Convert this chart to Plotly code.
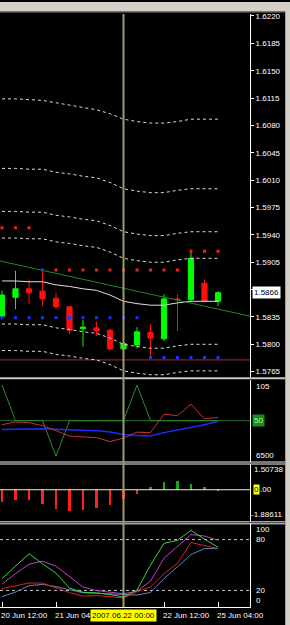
import plotly.graph_objects as go

W, H = 290, 625

# ---------------- data ----------------
bar_times = ["2007.06.20 12:00", "2007.06.20 16:00", "2007.06.20 20:00", "2007.06.21 00:00",
             "2007.06.21 04:00", "2007.06.21 08:00", "2007.06.21 12:00", "2007.06.21 16:00",
             "2007.06.21 20:00", "2007.06.22 00:00", "2007.06.22 04:00", "2007.06.22 08:00",
             "2007.06.22 12:00", "2007.06.22 16:00", "2007.06.22 20:00", "2007.06.25 00:00",
             "2007.06.25 04:00"]
bar_idx = list(range(len(bar_times)))

open_ = [1.5836, 1.5860, 1.5871, 1.5868, 1.5859, 1.5848, 1.5820, 1.5821, 1.5818, 1.5794,
         1.5799, 1.5815, 1.5807, 1.5858, 1.5857, 1.5878, 1.5855]
high_ = [1.5869, 1.5894, 1.5883, 1.5896, 1.5866, 1.5849, 1.5831, 1.5829, 1.5820, 1.5802,
         1.5822, 1.5826, 1.5864, 1.5864, 1.5917, 1.5883, 1.5868]
low_ = [1.5834, 1.5845, 1.5852, 1.5849, 1.5845, 1.5813, 1.5797, 1.5811, 1.5792, 1.5793,
        1.5795, 1.5783, 1.5804, 1.5817, 1.5855, 1.5854, 1.5849]
close_ = [1.5863, 1.5871, 1.5866, 1.5858, 1.5848, 1.5818, 1.5822, 1.5817, 1.5794, 1.5801,
          1.5816, 1.5808, 1.5858, 1.5857, 1.5910, 1.5855, 1.5866]

env_mid = [1.5881, 1.5881, 1.5880, 1.5880, 1.5876, 1.5874, 1.5871, 1.5869, 1.5863, 1.5855,
           1.5852, 1.5850, 1.5850, 1.5853, 1.5855, 1.5855, 1.5855]
env_up1 = [1.5936, 1.5936, 1.5935, 1.5935, 1.5931, 1.5929, 1.5926, 1.5924, 1.5918, 1.5910,
           1.5907, 1.5905, 1.5905, 1.5908, 1.5910, 1.5910, 1.5910]
env_up2 = [1.5970, 1.5970, 1.5969, 1.5969, 1.5965, 1.5963, 1.5960, 1.5958, 1.5952, 1.5944,
           1.5941, 1.5939, 1.5939, 1.5942, 1.5944, 1.5944, 1.5944]
env_up3 = [1.6025, 1.6025, 1.6024, 1.6024, 1.6020, 1.6018, 1.6015, 1.6013, 1.6007, 1.5999,
           1.5996, 1.5994, 1.5994, 1.5997, 1.5999, 1.5999, 1.5999]
env_up4 = [1.6114, 1.6114, 1.6113, 1.6112, 1.6109, 1.6106, 1.6103, 1.6100, 1.6095, 1.6088,
           1.6085, 1.6083, 1.6083, 1.6085, 1.6088, 1.6088, 1.6088]
env_dn1 = [1.5826, 1.5826, 1.5825, 1.5825, 1.5821, 1.5819, 1.5816, 1.5814, 1.5808, 1.5800,
           1.5797, 1.5795, 1.5795, 1.5798, 1.5800, 1.5800, 1.5800]
env_dn2 = [1.5792, 1.5792, 1.5791, 1.5791, 1.5787, 1.5785, 1.5782, 1.5780, 1.5774, 1.5766,
           1.5763, 1.5761, 1.5761, 1.5764, 1.5766, 1.5766, 1.5766]

res_dot_idx = [0, 1, 2, 4, 5, 6, 7, 8, 9, 10, 11, 12, 13, 14, 15, 16]
res_dot_val = [1.5949, 1.5949, 1.5949, 1.5895, 1.5895, 1.5895, 1.5895, 1.5895, 1.5895, 1.5895,
               1.5895, 1.5895, 1.5895, 1.5919, 1.5919, 1.5919]
sup_dot_idx = [0, 1, 2, 3, 3, 4, 5, 6, 7, 8, 9, 10, 11, 12, 13, 14, 15, 16]
sup_dot_val = [1.5834, 1.5834, 1.5834, 1.5834, 1.5895, 1.5834, 1.5834, 1.5834, 1.5834, 1.5834,
               1.5834, 1.5834, 1.5783, 1.5783, 1.5783, 1.5783, 1.5783, 1.5783]

trend_idx = [0, 16]
trend_val = [1.5906, 1.5845]
hline_price = 1.5780
last_price = 1.5866

price_ticks = [1.6220, 1.6185, 1.6150, 1.6115, 1.6080, 1.6045, 1.6010, 1.5975, 1.5940,
               1.5905, 1.5870, 1.5835, 1.5800, 1.5765]
hidden_tick = 1.5870   # covered by the last-price box

# sub window 1
sub1_zig = [105, 50, 50, 50, -5, 50, 50, 50, 50, 50, 105, 50, 50, 50, 50, 50, 50]
sub1_red = [43.8, 48.0, 46.9, 42.3, 34.6, 26.2, 24.9, 23.8, 17.7, 23.1, 32.3, 31.5, 60.0,
            57.7, 75.4, 52.6, 55.3]
sub1_blue = [36.2, 36.9, 37.4, 37.4, 36.9, 36.2, 35.4, 34.6, 32.3, 28.7, 26.9, 26.2, 31.5,
             35.4, 38.9, 43.8, 49.2]
sub1_level = 50
sub1_labels = ["105", "50", "6500"]

# sub window 2
sub2_hist = [-0.81, -0.69, -0.69, -1.00, -1.35, -1.47, -1.40, -1.24, -1.05, -0.60, -0.28,
             0.23, 0.61, 0.66, 0.47, 0.26, 0.07]
sub2_labels = ["1.50738", "0", ".00", "-1.88611"]

# sub window 3
sub3_green = [33.9, 48.6, 63.3, 51.5, 40.4, 22.7, 17.8, 17.1, 15.1, 12.1, 20.4, 49.8, 75.6,
              79.2, 90.9, 80.4, 70.9]
sub3_magenta = [27.4, 39.8, 50.9, 54.5, 48.6, 36.8, 23.9, 19.8, 18.0, 16.0, 19.2, 30.9, 58.0,
                71.5, 85.9, 84.2, 79.2]
sub3_red = [22.1, 25.9, 28.8, 28.6, 23.3, 17.4, 13.3, 13.9, 12.7, 10.9, 18.4, 24.2, 39.8,
            52.1, 76.5, 73.3, 69.4]
sub3_blue = [12.7, 18.0, 25.6, 27.1, 24.5, 20.9, 17.2, 16.6, 16.0, 14.8, 14.5, 17.6, 33.9,
             48.0, 62.4, 69.4, 69.4]
sub3_levels = [80, 20]
sub3_labels = ["100", "80", "20", "0"]

time_labels = ["20 Jun 12:00", "21 Jun 04", "22 Jun 12:00", "25 Jun 04:00"]
time_label_idx = [0, 4, 12, 16]
cursor_idx = 9
cursor_label = "2007.06.22 00:00"

# ---------------- layout helpers ----------------
def py(p):
    return 1 - p / H

def px(p):
    return p / W

FONT = "Liberation Sans"
FS = 8
XR = [-0.148, 18.37]
AX_R = px(250)

fig = go.Figure()

# main panel lines
for arr in [env_up4, env_up3, env_up2, env_up1, env_dn1, env_dn2]:
    fig.add_trace(go.Scatter(x=bar_idx, y=arr, mode="lines",
                             line=dict(color="#dcdcdc", width=1, dash="3px,3px"), yaxis="y"))
fig.add_trace(go.Scatter(x=bar_idx, y=env_mid, mode="lines",
                         line=dict(color="#e0e0e0", width=1), yaxis="y"))

slope = (trend_val[1] - trend_val[0]) / (trend_idx[1] - trend_idx[0])
tx = [XR[0], XR[1]]
ty = [trend_val[0] + slope * (t - trend_idx[0]) for t in tx]
fig.add_trace(go.Scatter(x=tx, y=ty, mode="lines", line=dict(color="#1f8a1f", width=1), yaxis="y"))

fig.add_trace(go.Scatter(x=res_dot_idx, y=res_dot_val, mode="markers",
                         marker=dict(symbol="square", size=3, color="#e82020", line=dict(width=0)),
                         yaxis="y"))
fig.add_trace(go.Scatter(x=sup_dot_idx, y=sup_dot_val, mode="markers",
                         marker=dict(symbol="square", size=3, color="#2030ff", line=dict(width=0)),
                         yaxis="y"))

fig.add_trace(go.Candlestick(
    x=bar_idx, open=open_, high=high_, low=low_, close=close_, yaxis="y",
    increasing=dict(line=dict(color="#00ff00", width=1), fillcolor="#00ff00"),
    decreasing=dict(line=dict(color="#ff1010", width=1), fillcolor="#ff1010"),
    whiskerwidth=0, hoverinfo="skip"))

# sub1
fig.add_trace(go.Scatter(x=bar_idx, y=sub1_zig, mode="lines",
                         line=dict(color="#2e8b2e", width=1), yaxis="y2"))
fig.add_trace(go.Scatter(x=bar_idx, y=sub1_blue, mode="lines",
                         line=dict(color="#1e2cff", width=1.5), yaxis="y2"))
fig.add_trace(go.Scatter(x=bar_idx, y=sub1_red, mode="lines",
                         line=dict(color="#c83030", width=1), yaxis="y2"))

# sub2
fig.add_trace(go.Bar(x=bar_idx, y=sub2_hist, width=0.15, yaxis="y3",
                     marker=dict(color=["#ff2020" if v < 0 else "#22a022" for v in sub2_hist],
                                 line=dict(width=0))))

# sub3
for arr, col in [(sub3_blue, "#5a86c8"), (sub3_red, "#e02020"),
                 (sub3_magenta, "#c040c8"), (sub3_green, "#40d040")]:
    fig.add_trace(go.Scatter(x=bar_idx, y=arr, mode="lines",
                             line=dict(color=col, width=1), yaxis="y4"))

shapes = []
# level lines
shapes.append(dict(type="line", xref="x domain", x0=0, x1=1, yref="y", y0=hline_price,
                   y1=hline_price, line=dict(color="#b02828", width=1), layer="below"))
shapes.append(dict(type="line", xref="x domain", x0=0, x1=1, yref="y2", y0=sub1_level,
                   y1=sub1_level, line=dict(color="#2a6e2a", width=1), layer="below"))
shapes.append(dict(type="line", xref="x domain", x0=0, x1=1, yref="y3", y0=0, y1=0,
                   line=dict(color="#f4f4c8", width=1)))
for lv in sub3_levels:
    shapes.append(dict(type="line", xref="x domain", x0=0, x1=1, yref="y4", y0=lv, y1=lv,
                       line=dict(color="#c8c8c8", width=1, dash="3px,3px"), layer="below"))

# window chrome
shapes.append(dict(type="rect", xref="paper", yref="paper", x0=0, x1=1, y0=py(9), y1=1,
                   fillcolor="#d4d0c8", line=dict(width=0)))
shapes.append(dict(type="line", xref="paper", yref="paper", x0=0, x1=1, y0=py(9.5), y1=py(9.5),
                   line=dict(color="#808080", width=1)))
shapes.append(dict(type="line", xref="paper", yref="paper", x0=0, x1=1, y0=py(10.5), y1=py(10.5),
                   line=dict(color="#404040", width=1)))
shapes.append(dict(type="rect", xref="paper", yref="paper", x0=px(286), x1=1, y0=0, y1=py(9),
                   fillcolor="#d4d0c8", line=dict(width=0)))
shapes.append(dict(type="line", xref="paper", yref="paper", x0=px(285.5), x1=px(285.5), y0=0,
                   y1=py(9), line=dict(color="#a0a0a0", width=1)))
# separators
shapes.append(dict(type="line", xref="paper", yref="paper", x0=0, x1=px(285), y0=py(377.5),
                   y1=py(377.5), line=dict(color="#c8c8c8", width=2)))
for yy in [461.5, 463.5, 521.5, 523.5]:
    shapes.append(dict(type="line", xref="paper", yref="paper", x0=0, x1=px(285), y0=py(yy),
                       y1=py(yy), line=dict(color="#f0f0f0", width=1)))
# cursor line
shapes.append(dict(type="line", xref="x", yref="paper", x0=cursor_idx, x1=cursor_idx,
                   y0=py(607), y1=py(12), line=dict(color="#9c9c68", width=2)))

annotations = []
lab_font = dict(family=FONT, size=FS, color="white")
LX = px(254)
annotations.append(dict(xref="paper", yref="y", x=px(252), y=last_price, xanchor="left",
                        yanchor="middle", text="%.4f" % last_price, showarrow=False,
                        font=dict(family=FONT, size=FS, color="black"), bgcolor="white",
                        borderpad=1))
# sub1 labels
annotations.append(dict(xref="paper", yref="y2 domain", x=LX, y=1, xanchor="left", yanchor="top",
                        text=sub1_labels[0], showarrow=False, font=lab_font))
annotations.append(dict(xref="paper", yref="y2", x=px(252), y=sub1_level, xanchor="left",
                        yanchor="middle", text=sub1_labels[1], showarrow=False,
                        font=dict(family=FONT, size=FS, color="#9cff9c"), bgcolor="#1e8a1e",
                        borderpad=1))
annotations.append(dict(xref="paper", yref="y2 domain", x=LX, y=0, xanchor="left",
                        yanchor="bottom", text=sub1_labels[2], showarrow=False, font=lab_font))
# sub2 labels
annotations.append(dict(xref="paper", yref="y3 domain", x=px(285), y=1, xanchor="right",
                        yanchor="top", text=sub2_labels[0], showarrow=False, font=lab_font,
                        yshift=1))
annotations.append(dict(xref="paper", yref="y3", x=px(253), y=0, xanchor="left", yanchor="middle",
                        text=sub2_labels[1], showarrow=False,
                        font=dict(family=FONT, size=FS, color="black"), bgcolor="#ffff00",
                        borderpad=0))
annotations.append(dict(xref="paper", yref="y3", x=px(258), y=0, xanchor="left", yanchor="middle",
                        text=sub2_labels[2], showarrow=False, font=lab_font))
annotations.append(dict(xref="paper", yref="y3 domain", x=px(285), y=0, xanchor="right",
                        yanchor="bottom", text=sub2_labels[3], showarrow=False, font=lab_font))
# sub3 labels
annotations.append(dict(xref="paper", yref="y4 domain", x=LX, y=1, xanchor="left", yanchor="top",
                        text=sub3_labels[0], showarrow=False, font=lab_font))
for lv, t in zip(sub3_levels, sub3_labels[1:3]):
    annotations.append(dict(xref="paper", yref="y4", x=LX, y=lv, xanchor="left",
                            yanchor="middle", text=t, showarrow=False, font=lab_font))
annotations.append(dict(xref="paper", yref="y4 domain", x=LX, y=0, xanchor="left",
                        yanchor="bottom", text=sub3_labels[3], showarrow=False, font=lab_font))
# time labels
for i, t in zip(time_label_idx, time_labels):
    annotations.append(dict(xref="x", yref="paper", x=i, y=py(615), xanchor="left",
                            yanchor="middle", text=t, showarrow=False, font=lab_font, xshift=-3))
annotations.append(dict(xref="x", yref="paper", x=cursor_idx, y=py(615), xanchor="center",
                        yanchor="middle", text=cursor_label, showarrow=False,
                        font=dict(family=FONT, size=FS, color="black"), bgcolor="#ffff00",
                        borderpad=1))

yax_common = dict(side="right", anchor="x", showgrid=False, zeroline=False, showline=True,
                  linecolor="white", linewidth=1, fixedrange=True)

fig.update_layout(
    width=W, height=H, margin=dict(l=0, r=0, t=0, b=0),
    paper_bgcolor="black", plot_bgcolor="black", showlegend=False, hovermode=False,
    boxgap=0.45, bargap=0,
    xaxis=dict(domain=[0, AX_R], range=XR, anchor="y4", showgrid=False, zeroline=False,
               showticklabels=False, ticks="inside", ticklen=5, tickcolor="white",
               tickvals=time_label_idx, showline=True, linecolor="white",
               rangeslider=dict(visible=False), fixedrange=True),
    yaxis=dict(domain=[py(376), py(12)], range=[1.57584, 1.62226], tickvals=price_ticks,
               ticktext=["" if v == hidden_tick else "%.4f" % v for v in price_ticks],
               ticks="outside", ticklen=3,
               tickcolor="white", tickfont=lab_font, **yax_common),
    yaxis2=dict(domain=[py(461), py(379)], range=[-13.1, 113.1], showticklabels=False,
                **yax_common),
    yaxis3=dict(domain=[py(521), py(463)], range=[-2.25, 1.87], showticklabels=False,
                **yax_common),
    yaxis4=dict(domain=[py(607), py(523)], range=[0.35, 99.2], showticklabels=False,
                **yax_common),
    shapes=shapes, annotations=annotations,
)

fig.write_html("out.html")
